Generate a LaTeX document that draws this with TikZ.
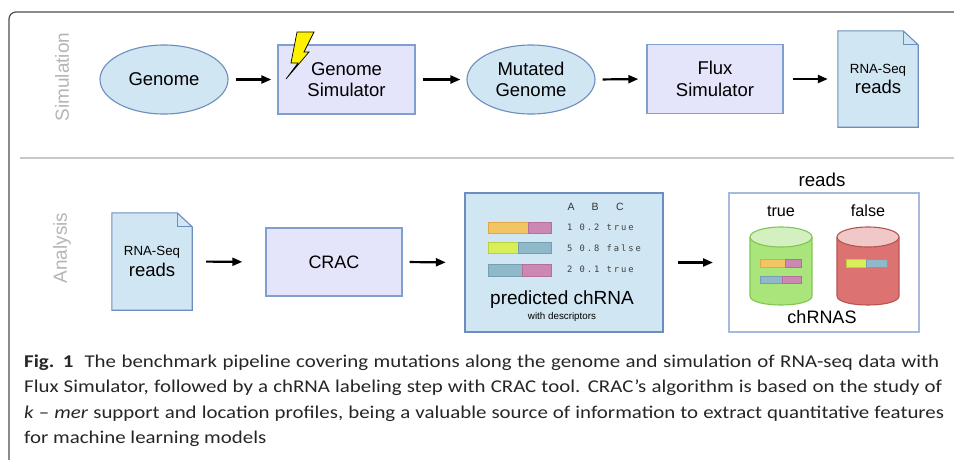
\documentclass[tikz,border=0pt]{standalone}
\usepackage{fontspec}
\setmainfont{Liberation Sans}
\newfontfamily\capfont[FakeStretch=1.16]{Carlito}
\newfontfamily\monof[LetterSpace=22]{DejaVu Sans Mono}
\usetikzlibrary{arrows.meta,shapes.geometric,backgrounds}
\definecolor{framegray}{HTML}{4D4D4D}
\definecolor{sepgray}{HTML}{C8C8C8}
\definecolor{labelgray}{HTML}{B5B5B5}
\definecolor{nodefill}{HTML}{D0E6F3}
\definecolor{nodeborder}{HTML}{6C8EBF}
\definecolor{procfill}{HTML}{E4E4FA}
\definecolor{procborder}{HTML}{7F9FCF}
\definecolor{chrborder}{HTML}{A6BADC}
\definecolor{barorange}{HTML}{F2C463}
\definecolor{barorangeb}{HTML}{DDA845}
\definecolor{barpink}{HTML}{CC88B2}
\definecolor{barpinkb}{HTML}{B56F9C}
\definecolor{barlime}{HTML}{D9EF5A}
\definecolor{barlimeb}{HTML}{B9D040}
\definecolor{barblue}{HTML}{8FB9C9}
\definecolor{barblueb}{HTML}{729FB2}
\definecolor{cylgreen}{HTML}{A9E57A}
\definecolor{cylgreentop}{HTML}{D5F0C0}
\definecolor{cylgreenb}{HTML}{82C550}
\definecolor{cylred}{HTML}{DD7272}
\definecolor{cylredtop}{HTML}{F1C8C8}
\definecolor{cylredb}{HTML}{B85450}
\definecolor{bolt}{HTML}{FFF200}
\begin{document}
\begin{tikzpicture}[x=1pt,y=-1pt,
  sidelbl/.style={text=labelgray, font=\fontsize{19}{19}\selectfont, rotate=90, inner sep=0pt},
  ell/.style={ellipse, draw=nodeborder, line width=1.1pt, fill=nodefill, minimum width=128pt, minimum height=69pt, inner sep=0pt, align=center, font=\fontsize{18.5}{21.5}\selectfont},
  proc/.style={rectangle, draw=procborder, line width=1.4pt, fill=procfill, inner sep=0pt, align=center, font=\fontsize{18.5}{21.5}\selectfont},
  docnode/.style={rectangle, inner sep=0pt, minimum width=80pt, minimum height=96pt, align=center},
  docline/.style={draw=nodeborder, line width=1.1pt, fill=nodefill, line join=miter},
  arr/.style={-{Triangle[length=10pt,width=8pt]}, line width=2.2pt},
  txt/.style={inner sep=0pt, text=black},
  bar/.style={line width=0.9pt},
  mono/.style={inner sep=0pt, anchor=west, text=black!75, font=\monof\fontsize{8.8}{9}\selectfont},
  hdr/.style={inner sep=0pt, text=black!80, font=\fontsize{10.5}{10}\selectfont},
  capline/.style={inner sep=0pt, anchor=base west, font=\capfont\fontsize{18}{20}\selectfont, text=black!85}
]
\useasboundingbox (0,0) rectangle (954,459);
\clip (0,0) rectangle (954,459);

% frame and separator
\draw[framegray, line width=1.2pt, rounded corners=7pt] (9,470) -- (9,12) -- (965,12);
\draw[sepgray, line width=1.5pt] (20,158) -- (965,158);

% side labels
\node[sidelbl] (simlbl) at (62,77) {Simulation};
\node[sidelbl] (anllbl) at (62,248) {Analysis};

% ---- Simulation row
\node[ell] (genome) at (164,79.5) {Genome};
\node[proc, minimum width=137pt, minimum height=69pt] (gsim) at (346.5,79.5) {Genome\\Simulator};
\node[ell] (mgen) at (531,79.5) {Mutated\\Genome};
\node[proc, minimum width=136pt, minimum height=69pt] (flux) at (715,79) {Flux\\Simulator};
\node[docnode] (doc1) at (878,79) {\fontsize{13.3}{15}\selectfont RNA-Seq\\[3pt]\fontsize{18.5}{19}\selectfont reads};

% lightning bolt
\filldraw[fill=bolt, draw=black, line width=0.7pt, line join=miter]
  (297,32) -- (314,32) -- (304,52) -- (309,52) -- (286,79) -- (298,63) -- (291,63) -- cycle;

% ---- Analysis row
\node[docnode, minimum height=97pt] (doc2) at (152,261.5) {\fontsize{13.3}{15}\selectfont RNA-Seq\\[3pt]\fontsize{18.5}{19}\selectfont reads};
\node[proc, minimum width=136pt, minimum height=68pt, font=\fontsize{18}{20}\selectfont] (crac) at (334,262) {CRAC};
\node[rectangle, draw=nodeborder, line width=2.4pt, fill=nodefill, minimum width=198pt, minimum height=139pt, inner sep=0pt] (pred) at (564,262.5) {};
\node[rectangle, draw=chrborder, line width=2pt, fill=white, minimum width=190pt, minimum height=139pt, inner sep=0pt] (chr) at (824,262.5) {};

% document outlines (behind text)
\begin{scope}[on background layer]
  \fill[white] (0,0) rectangle (954,459);
  \foreach \d in {doc1,doc2}{
    \path[docline] (\d.north west) -- ([xshift=-15pt]\d.north east) -- ([yshift=-14pt]\d.north east) -- (\d.south east) -- (\d.south west) -- cycle;
    \draw[nodeborder, line width=1.1pt, line join=miter] ([xshift=-15pt]\d.north east) -- ([xshift=-15pt,yshift=-14pt]\d.north east) -- ([yshift=-14pt]\d.north east);
  }
\end{scope}

% arrows
\draw[arr, shorten <=7pt, shorten >=6pt] (genome.east) -- (gsim.west);
\draw[arr, shorten <=7pt, shorten >=6pt] (gsim.east) -- (mgen.west);
\draw[arr, shorten <=7pt, shorten >=8pt] (mgen.east) -- (flux.west);
\draw[arr, shorten <=9pt, shorten >=10pt] (flux.east) -- (doc1.west);
\draw[arr, shorten <=14pt, shorten >=23pt] (doc2.east) -- (crac.west);
\draw[arr, shorten <=7pt, shorten >=18pt] (crac.east) -- (pred.west);
\draw[arr, shorten <=14pt, shorten >=15pt] (pred.east) -- (chr.west);

% predicted chRNA contents
\node[hdr] (hA) at (571,207) {A};
\node[hdr] (hB) at (595,207) {B};
\node[hdr] (hC) at (620,207) {C};
\filldraw[bar, fill=barorange, draw=barorangeb] (488,222) rectangle (528,233);
\filldraw[bar, fill=barpink, draw=barpinkb] (528,222) rectangle (551,233);
\filldraw[bar, fill=barlime, draw=barlimeb] (488,242) rectangle (518,253);
\filldraw[bar, fill=barblue, draw=barblueb] (518,242) rectangle (551,253);
\filldraw[bar, fill=barblue, draw=barblueb] (488,264) rectangle (522,276);
\filldraw[bar, fill=barpink, draw=barpinkb] (522,264) rectangle (551,276);
\node[mono] (r1) at (567,227.5) {1 0.2 true};
\node[mono] (r2) at (567,248) {5 0.8 false};
\node[mono] (r3) at (567,269.5) {2 0.1 true};
\node[txt, font=\fontsize{19}{19}\selectfont] (pc) at (562,300) {predicted chRNA};
\node[txt, font=\fontsize{9.8}{10}\selectfont] (wd) at (562,317) {with descriptors};

% chRNAS contents
\node[txt, font=\fontsize{18.7}{19}\selectfont] (rdl) at (822,180) {reads};
\node[txt, font=\fontsize{16.2}{17}\selectfont] (tl) at (781,211) {true};
\node[txt, font=\fontsize{16.2}{17}\selectfont] (fl) at (868,211) {false};
\node[txt, font=\fontsize{18}{19}\selectfont] (chl) at (822,317) {chRNAS};

% green cylinder
\fill[cylgreen] (750,237) rectangle (812,296);
\fill[cylgreen] (750,296) .. controls (750,308) and (812,308) .. (812,296) -- cycle;
\draw[cylgreenb, line width=1.1pt] (750,237) -- (750,296) .. controls (750,308) and (812,308) .. (812,296) -- (812,237);
\filldraw[fill=cylgreentop, draw=cylgreenb, line width=1.1pt] (781,237) ellipse[x radius=31, y radius=10];
\filldraw[bar, fill=barorange, draw=barorangeb] (760,259) rectangle (785,267);
\filldraw[bar, fill=barpink, draw=barpinkb] (785,259) rectangle (801,267);
\filldraw[bar, fill=barblue, draw=barblueb] (760,276) rectangle (782,283);
\filldraw[bar, fill=barpink, draw=barpinkb] (782,276) rectangle (801,283);

% red cylinder
\fill[cylred] (837,237) rectangle (899,296);
\fill[cylred] (837,296) .. controls (837,308) and (899,308) .. (899,296) -- cycle;
\draw[cylredb, line width=1.1pt] (837,237) -- (837,296) .. controls (837,308) and (899,308) .. (899,296) -- (899,237);
\filldraw[fill=cylredtop, draw=cylredb, line width=1.1pt] (868,237) ellipse[x radius=31, y radius=10];
\filldraw[bar, fill=barlime, draw=barlimeb] (846,259) rectangle (866,267);
\filldraw[bar, fill=barblue, draw=barblueb] (866,259) rectangle (887,267);

% caption
\node[capline] (cap1) at (24,367) {\makebox[915pt][s]{\textbf{Fig. 1}\ \ The benchmark pipeline covering mutations along the genome and simulation of RNA-seq data with}};
\node[capline] (cap2) at (24,392.5) {\makebox[918pt][s]{Flux Simulator, followed by a chRNA labeling step with CRAC tool. CRAC’s algorithm is based on the study of}};
\node[capline] (cap3) at (24,418) {\makebox[920pt][s]{\textit{k} – \textit{mer} support and location profiles, being a valuable source of information to extract quantitative features}};
\node[capline] (cap4) at (24,443.5) {for machine learning models};
\end{tikzpicture}
\end{document}
